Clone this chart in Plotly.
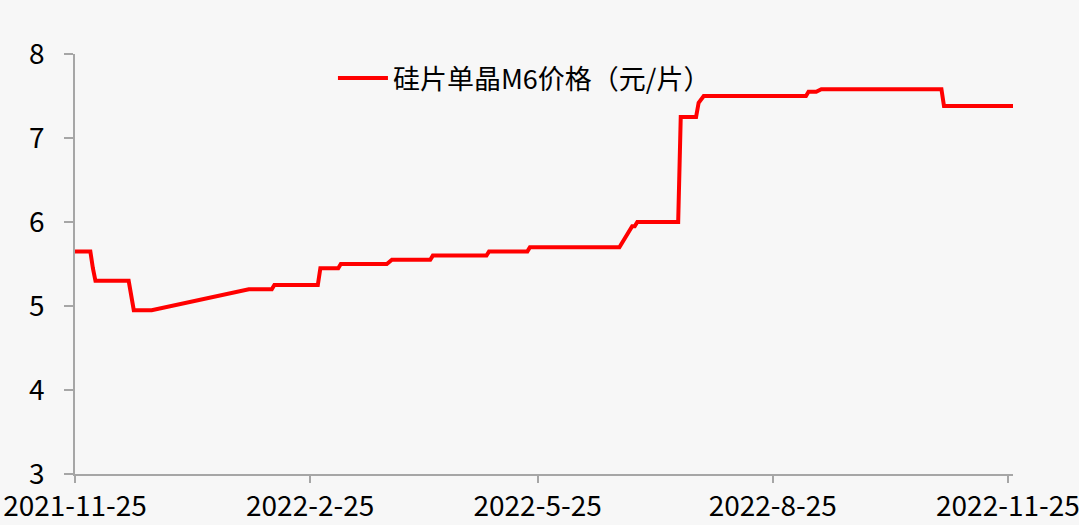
import plotly.graph_objects as go

# 硅片单晶M6价格（元/片）
dates = [
    "2021-11-25", "2021-12-01", "2021-12-02", "2021-12-03", "2021-12-16",
    "2021-12-18", "2021-12-25", "2022-02-01", "2022-02-10", "2022-02-11",
    "2022-02-28", "2022-03-01", "2022-03-08", "2022-03-09", "2022-03-27",
    "2022-03-29", "2022-04-13", "2022-04-14", "2022-05-05", "2022-05-06",
    "2022-05-21", "2022-05-22", "2022-06-26", "2022-07-01", "2022-07-02",
    "2022-07-03", "2022-07-19", "2022-07-20", "2022-07-26", "2022-07-27",
    "2022-07-29", "2022-09-07", "2022-09-08", "2022-09-11", "2022-09-13",
    "2022-10-30", "2022-10-31", "2022-11-27",
]
prices = [
    5.65, 5.65, 5.45, 5.30, 5.30,
    4.95, 4.95, 5.20, 5.20, 5.25,
    5.25, 5.45, 5.45, 5.50, 5.50,
    5.55, 5.55, 5.60, 5.60, 5.65,
    5.65, 5.70, 5.70, 5.95, 5.95,
    6.00, 6.00, 7.25, 7.25, 7.42,
    7.50, 7.50, 7.55, 7.55, 7.58,
    7.58, 7.38, 7.38,
]

tick_dates = ["2021-11-25", "2022-02-25", "2022-05-25", "2022-08-25", "2022-11-25"]
tick_text = ["2021-11-25", "2022-2-25", "2022-5-25", "2022-8-25", "2022-11-25"]

font = "Noto Sans CJK SC"

fig = go.Figure()
fig.add_trace(go.Scatter(
    x=dates, y=prices, mode="lines",
    name="硅片单晶M6价格（元/片）",
    line=dict(color="#ff0000", width=4),
))

fig.update_layout(
    width=1079, height=525,
    paper_bgcolor="#f7f7f7", plot_bgcolor="#f7f7f7",
    margin=dict(l=75, r=66, t=54, b=51),
    font=dict(family=font, size=22, color="#000000"),
    showlegend=True,
    legend=dict(
        x=0.275, y=1.0, xanchor="left", yanchor="top",
        orientation="h", bgcolor="rgba(0,0,0,0)",
        font=dict(size=27), itemwidth=50,
    ),
    xaxis=dict(
        type="date", range=["2021-11-25", "2022-11-27"],
        tickvals=tick_dates, ticktext=tick_text,
        showgrid=False, zeroline=False, automargin=False,
        showline=True, linecolor="#a6a6a6", linewidth=1.5,
        ticks="outside", ticklen=7, tickcolor="#a6a6a6", tickwidth=1.5,
        tickfont=dict(size=28), ticklabelstandoff=0,
        ticklabeloverflow="allow",
    ),
    yaxis=dict(
        range=[3, 8], dtick=1,
        showgrid=False, zeroline=False, automargin=False,
        showline=True, linecolor="#a6a6a6", linewidth=1.5,
        ticks="outside", ticklen=9, tickcolor="#a6a6a6", tickwidth=1.5,
        tickfont=dict(size=28), ticklabelstandoff=14,
    ),
)

fig.write_html(
    "out.html",
    config={"displayModeBar": False},
    post_script="document.body.style.margin = '0';",
)
